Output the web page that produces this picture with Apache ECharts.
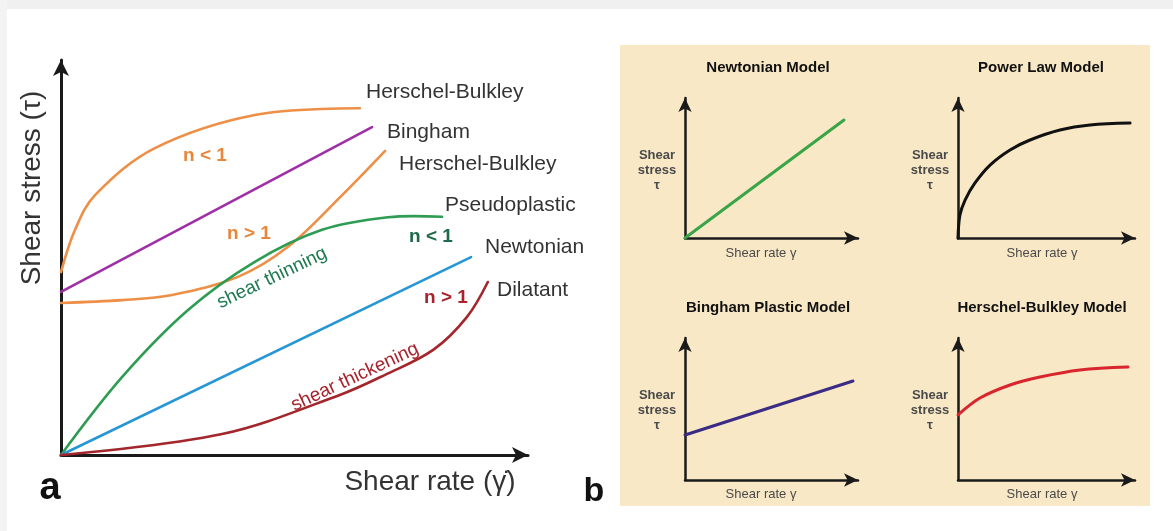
<!DOCTYPE html>
<html><head><meta charset="utf-8">
<script src="https://cdn.jsdelivr.net/npm/echarts@6/dist/echarts.min.js"></script>
<style>html,body{margin:0;padding:0;background:#fff}#c{width:1173px;height:531px}</style>
</head><body><div id="c"></div>
<script>
// ---- Panel a: flow curves (shear rate x, shear stress y), arbitrary units 0..100 ----
const hbShearThinning = [[0,46.3],[3.0,57.0],[7.28,65.8],[20.1,77.7],[41.5,86.1],[64.0,87.8]];
const bingham = [[0,41.3],[66.6,83.0]];
const hbShearThickening = [[0,38.5],[13.06,39.2],[23.8,40.5],[37.9,45.1],[48.6,52.7],[60.2,65.8],[69.4,77.0]];
const pseudoplastic = [[0,0],[13.06,19.7],[27.2,36.7],[41.5,48.9],[55.9,57.0],[70.0,60.2],[81.6,60.3]];
const newtonian = [[0,0],[87.8,50.1]];
const dilatant = [[0,0],[34.5,5.3],[59.7,15.2],[69.4,20.3],[79.7,26.6],[86.9,34.9],[91.4,43.8]];

// ---- Panel b: four model sketches, arbitrary units 0..100 ----
const modelNewtonian = [[0,0],[91.9,84.3]];
const modelPowerLaw = [[0,0],[1.1,16.4],[4.0,27.1],[9.6,39.3],[18.1,52.1],[29.4,62.9],[40.7,70.0],[57.6,77.1],[74.6,80.7],[97.2,82.1]];
const modelBingham = [[0,31.7],[97.1,69.7]];
const modelHB = [[0,45.8],[12.4,57.7],[29.4,66.9],[46.3,72.5],[68.9,77.5],[96.0,79.6]];

const modelTitles = ['Newtonian Model','Power Law Model','Bingham Plastic Model','Herschel-Bulkley Model'];
const curveNames = ['Herschel-Bulkley','Bingham','Herschel-Bulkley','Pseudoplastic','Newtonian','Dilatant'];

const FONT = 'Liberation Sans, Arial, sans-serif';
const chart = echarts.init(document.getElementById('c'), null, {renderer:'canvas'});

function axisPair(gi, lw, arrow){
  const common = {
    type:'value', min:0, max:100, gridIndex:gi,
    axisLine:{show:true, lineStyle:{color:'#1a1a1a', width:lw}, symbol:['none','arrow'], symbolSize:arrow, symbolOffset:[0,0]},
    axisTick:{show:false}, axisLabel:{show:false}, splitLine:{show:false}
  };
  return [Object.assign({}, common), Object.assign({}, common)];
}
const grids = [
  {left:61, top:60, width:467, height:395},
  {left:685, top:98, width:173, height:140},
  {left:958, top:98, width:177, height:140},
  {left:685, top:338, width:173, height:142},
  {left:958, top:338, width:177, height:142}
];
const xAxes = [], yAxes = [];
grids.forEach((g,i)=>{
  const a = axisPair(i, i===0?3:2.5, i===0?[12,16]:[10,14]);
  xAxes.push(a[0]); yAxes.push(a[1]);
});

// smooth curve through the data points, positioned by the axes' own scales
function curve(data, color, gi, w){
  return {type:'custom', data:data, xAxisIndex:gi, yAxisIndex:gi, silent:true, z:5,
    encode:{x:0, y:1},
    renderItem:function(params, api){
      if (params.dataIndex !== 0) return null;
      const pts = data.map(p => api.coord(p));
      return {type:'polyline', shape:{points:pts, smooth:0.35},
        style:{stroke:color, lineWidth:w, fill:null, lineCap:'round', lineJoin:'round'}};
    }};
}

const series = [
  curve(hbShearThinning,'#EE8F48',0,2.6),
  curve(bingham,'#9E2FA6',0,2.6),
  curve(hbShearThickening,'#EE8F48',0,2.6),
  curve(pseudoplastic,'#2E9C52',0,2.6),
  curve(newtonian,'#2696D5',0,2.6),
  curve(dilatant,'#A3262C',0,2.6),
  curve(modelNewtonian,'#3AA546',1,3),
  curve(modelPowerLaw,'#111111',2,3),
  curve(modelBingham,'#3A2C84',3,3),
  curve(modelHB,'#D9252D',4,3)
];

function txt(text,x,y,size,color,opts){
  opts = opts||{};
  return {type:'text', x:x, y:y, rotation:opts.rot||0, silent:true, z:100,
    style:{text:text, x:0, y:0, fill:color, font:(opts.weight||'normal')+' '+size+'px '+(opts.family||FONT),
      textAlign:opts.align||'left', textVerticalAlign:'middle', verticalAlign:'middle', lineHeight:opts.lh||undefined}};
}

const deg = Math.PI/180;
const graphics = [
  {type:'rect', shape:{x:0,y:0,width:1173,height:9}, style:{fill:'#F0F0F0'}, silent:true, z:0},
  {type:'rect', shape:{x:0,y:0,width:7,height:531}, style:{fill:'#F3F3F3'}, silent:true, z:0},
  {type:'rect', shape:{x:620,y:45,width:530,height:461}, style:{fill:'#F8E8C6'}, silent:true, z:-1},
  // panel a axis titles
  txt('Shear stress (τ)',32,188,28,'#333',{align:'center',rot:90*deg}),
  txt('Shear rate (γ̇)',430,482,28,'#333',{align:'center'}),
  txt('a',50,489,38,'#111',{align:'center',weight:'bold'}),
  txt('b',594,492,34,'#111',{align:'center',weight:'bold'}),
  // curve names
  txt(curveNames[0],366,92,21,'#333'),
  txt(curveNames[1],387,132,21,'#333'),
  txt(curveNames[2],399,164,21,'#333'),
  txt(curveNames[3],445,205,21,'#333'),
  txt(curveNames[4],485,247,21,'#333'),
  txt(curveNames[5],497,290,21,'#333'),
  // flow index labels
  txt('n < 1',205,156,19,'#E8873C',{align:'center',weight:'bold'}),
  txt('n > 1',249,234,19,'#E8873C',{align:'center',weight:'bold'}),
  txt('n < 1',431,237,19,'#1E6A48',{align:'center',weight:'bold'}),
  txt('n > 1',446,298,19,'#A8232C',{align:'center',weight:'bold'}),
  txt('shear thinning',272,278,19,'#1E7A50',{align:'center',rot:25.5*deg}),
  txt('shear thickening',355,377,19,'#A8232C',{align:'center',rot:25*deg}),
];
// panel b texts
const subPos = [[768,68,657,170,761,253],[1041,68,930,170,1042,253],[768,308,657,410,761,494],[1042,308,930,410,1042,494]];
subPos.forEach((p,i)=>{
  graphics.push(txt(modelTitles[i],p[0],p[1],15,'#111',{align:'center',weight:'bold'}));
  graphics.push(txt('Shear\nstress\nτ',p[2],p[3],13,'#4a4a4a',{align:'center',weight:'bold',lh:15}));
  graphics.push(txt('Shear rate γ',p[4],p[5],13,'#4a4a4a',{align:'center'}));
});

chart.setOption({
  animation:false,
  backgroundColor:'#ffffff',
  grid:grids,
  xAxis:xAxes,
  yAxis:yAxes,
  series:series,
  graphic:graphics
});
</script></body></html>
